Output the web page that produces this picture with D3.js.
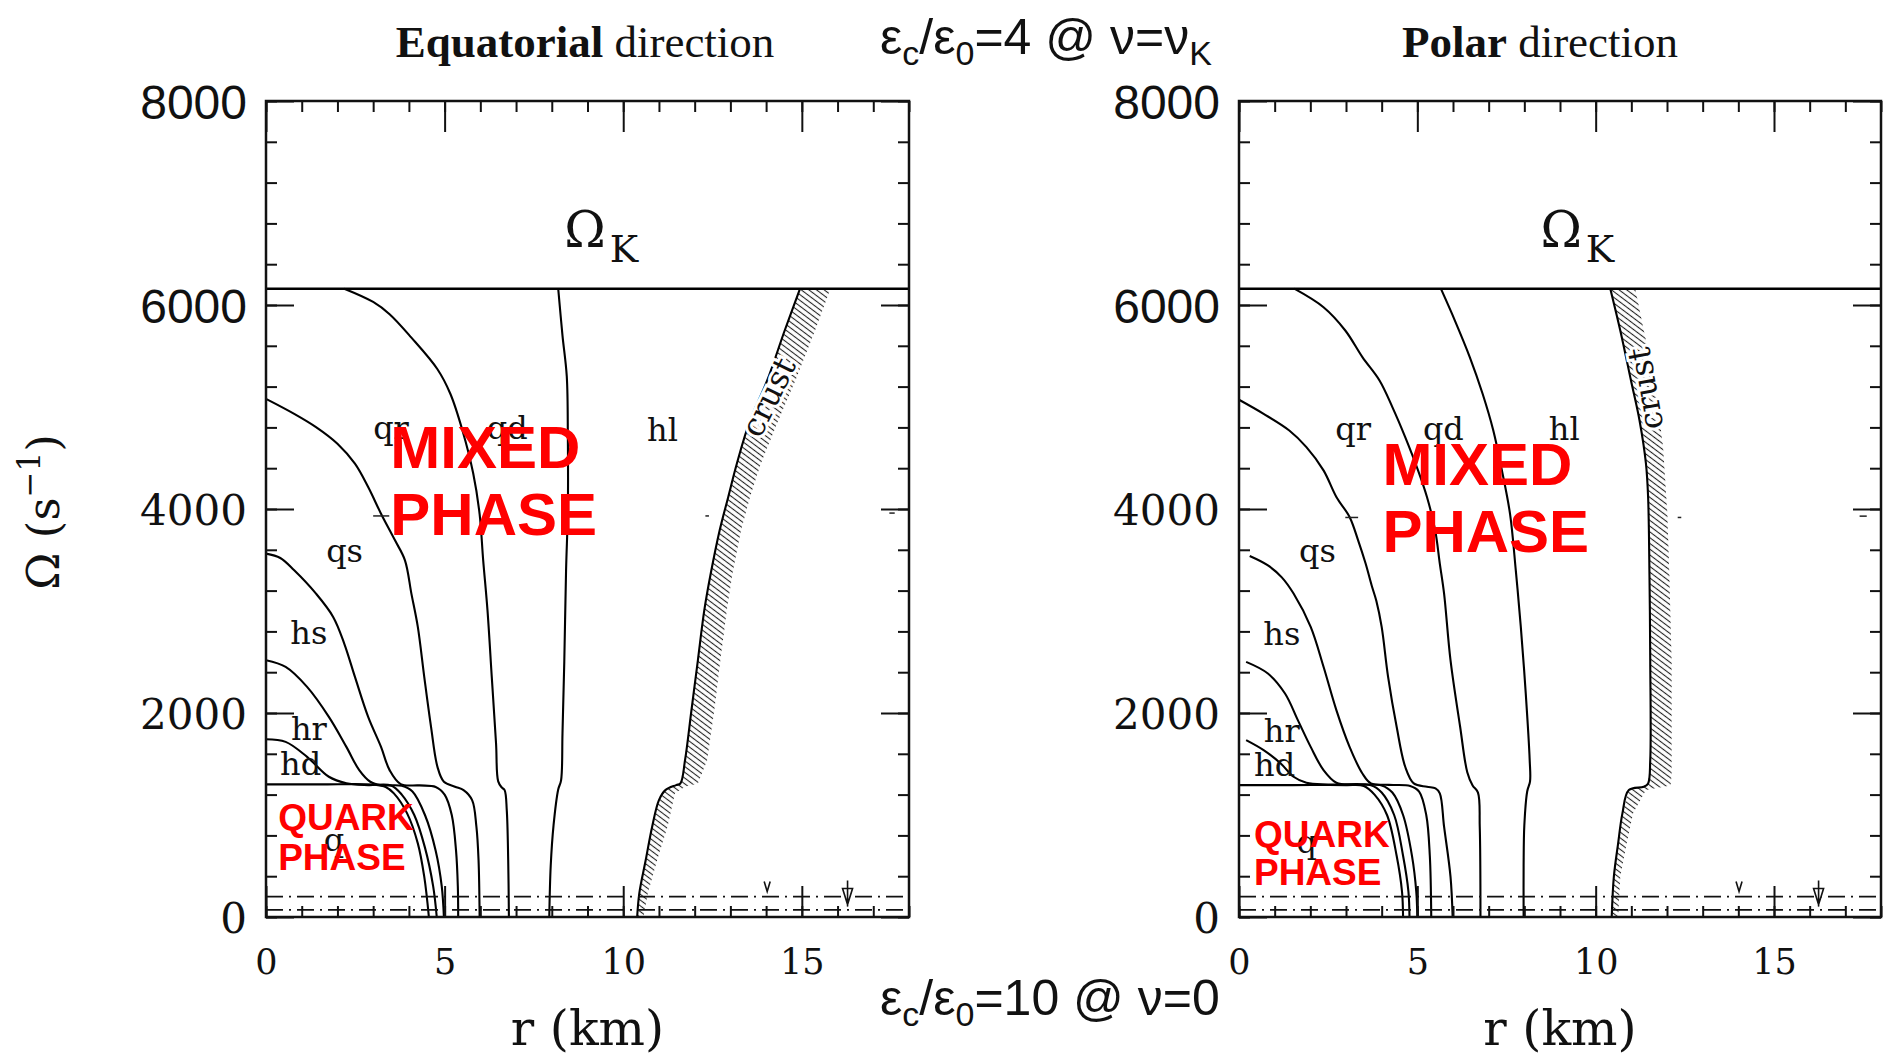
<!DOCTYPE html>
<html>
<head>
    <meta charset="utf-8">
    <title>Phase boundaries - equatorial / polar</title>
    <style>
        body { margin: 0; background: #fff; }
        svg { display: block; }
    </style>
    <script src="https://d3js.org/d3.v7.min.js"></script>
</head>
<body>
<script type="text/javascript">

    // axis values
    var rMinorTicks = d3.range(0, 19, 1);
    var rMajorTicks = [0, 5, 10, 15];
    var omegaMinorTicks = d3.range(0, 8001, 400);
    var omegaMajorTicks = [0, 2000, 4000, 6000, 8000];
    var omegaK = 6160;
    var dashLevels = [200, 70];

    // equatorial direction, [r (km), Omega (1/s)]
    var eqPlateau = [[0,1300],[1.5,1300],[3.0,1298],[3.35,1275],[3.58,1212],[3.95,1016],[4.25,722],[4.43,395],[4.56,0]];
    var eqHd = [[0,1743],[0.55,1717],[1.15,1570],[1.76,1375],[2.25,1312],[2.86,1293],[3.5,1290],[3.8,1200],[4.15,1000],[4.45,680],[4.68,300],[4.78,0]];
    var eqHr = [[0,2517],[0.55,2452],[1.15,2256],[1.76,1962],[2.25,1668],[2.61,1440],[2.92,1326],[3.22,1292],[3.8,1286],[4.1,1230],[4.45,1000],[4.75,650],[4.92,300],[4.98,0]];
    var eqQs = [[0,3563],[0.4,3520],[0.79,3399],[1.4,3170],[1.88,2942],[2.19,2681],[2.49,2354],[2.86,1962],[3.22,1668],[3.46,1440],[3.77,1303],[4.3,1290],[4.75,1275],[5.0,1200],[5.2,1000],[5.32,650],[5.37,300],[5.38,0]];
    var eqQr = [[0,5080],[0.79,4933],[1.4,4803],[2.0,4640],[2.49,4444],[2.86,4215],[3.22,3954],[3.6,3700],[3.89,3497],[4.07,3170],[4.25,2844],[4.43,2354],[4.62,1864],[4.8,1472],[4.98,1326],[5.29,1277],[5.53,1244],[5.77,1146],[5.89,885],[5.95,558],[5.98,0]];
    var eqQd = [[2.19,6160],[3.0,6030],[3.46,5910],[4.07,5680],[4.8,5370],[5.16,5130],[5.5,4770],[5.8,4350],[5.98,3950],[6.08,3497],[6.2,3008],[6.32,2354],[6.44,1701],[6.5,1330],[6.6,1270],[6.68,1244],[6.74,1048],[6.78,558],[6.8,0]];
    var eqHl = [[8.18,6160],[8.3,5700],[8.42,5300],[8.45,4700],[8.45,4000],[8.4,3400],[8.35,2500],[8.3,1800],[8.26,1340],[8.18,1250],[8.05,900],[7.97,500],[7.93,0]];
    var eqCrustInner = [[14.95,6160],[14.52,5750],[14.03,5260],[13.55,4868],[13.18,4444],[12.94,4118],[12.7,3791],[12.45,3367],[12.27,3008],[12.09,2517],[11.91,2027],[11.73,1537],[11.6,1309],[11.48,1293],[11.18,1244],[11.0,1146],[10.81,885],[10.63,559],[10.45,232],[10.39,0]];
    var eqCrustOuter = [[15.8,6160],[15.37,5750],[14.82,5260],[14.34,4868],[13.85,4444],[13.55,4118],[13.3,3791],[13.06,3367],[12.9,3008],[12.72,2517],[12.55,2027],[12.35,1537],[12.09,1310],[11.75,1280],[11.45,1215],[11.24,885],[10.95,559],[10.69,232],[10.57,0]];
    var eqTags = [['qr',3.5,4690],['qd',6.75,4690],['hl',11.1,4670],['qs',2.2,3480],['hs',1.2,2680],['hr',1.2,1735],['hd',0.97,1390],['q',1.9,650]];
    var eqMarks = [[14.03,300,'v'],[16.28,240,'tri']];
    var eqSpecks = [[3.0,3.45,3932],[12.3,12.4,3932],[17.45,17.6,3960]];

    // polar direction
    var poPlateau = [[0,1293],[1.5,1293],[3.0,1293],[3.5,1285],[3.8,1200],[4.15,1000],[4.42,600],[4.57,250],[4.6,0]];
    var poHd = [[0.2,1734],[0.69,1636],[1.17,1505],[1.53,1375],[1.89,1316],[2.5,1298],[3.7,1292],[4.0,1220],[4.35,1000],[4.6,600],[4.75,250],[4.78,0]];
    var poHr = [[0.2,2501],[0.81,2387],[1.29,2191],[1.65,1930],[2.01,1668],[2.37,1440],[2.73,1316],[3.2,1295],[4.0,1290],[4.3,1220],[4.6,1000],[4.85,600],[4.97,250],[5.0,0]];
    var poQs = [[0.3,3540],[0.8,3450],[1.2,3330],[1.53,3171],[2.01,2844],[2.37,2453],[2.73,2028],[3.1,1668],[3.46,1407],[3.7,1310],[4.2,1295],[4.8,1285],[5.05,1230],[5.25,1000],[5.35,600],[5.39,0]];
    var poQr = [[0,5071],[0.69,4933],[1.41,4770],[1.89,4607],[2.37,4379],[2.73,4118],[3.1,3922],[3.34,3693],[3.55,3465],[3.72,3250],[3.85,3100],[4.0,2844],[4.18,2355],[4.42,1865],[4.66,1473],[4.9,1310],[5.27,1277],[5.51,1261],[5.63,1212],[5.75,885],[5.93,395],[5.99,0]];
    var poQd = [[1.55,6160],[2.37,5978],[2.98,5750],[3.46,5489],[3.94,5260],[4.3,4999],[4.66,4705],[5.02,4379],[5.27,4118],[5.5,3791],[5.63,3465],[5.75,3171],[5.93,2518],[6.2,1865],[6.4,1420],[6.55,1290],[6.7,1220],[6.75,885],[6.77,0]];
    var poHl = [[5.66,6160],[6.05,5850],[6.47,5490],[6.83,5130],[7.13,4770],[7.37,4380],[7.6,3950],[7.76,3400],[7.9,2850],[8.04,2190],[8.15,1540],[8.16,1330],[8.08,1230],[8.0,900],[7.98,500],[7.98,0]];
    var poCrustInner = [[10.41,6160],[10.69,5750],[10.99,5260],[11.23,4868],[11.41,4444],[11.47,4118],[11.51,3301],[11.53,2518],[11.53,1538],[11.47,1310],[11.35,1277],[10.93,1244],[10.75,1016],[10.63,722],[10.51,395],[10.45,0]];
    var poCrustOuter = [[11.11,6160],[11.35,5750],[11.65,5260],[11.89,4607],[12.01,3954],[12.07,3301],[12.13,2500],[12.13,1400],[12.1,1290],[11.41,1244],[11.05,1016],[10.87,722],[10.69,395],[10.63,0]];
    var poTags = [['qr',3.2,4673],['qd',5.73,4673],['hl',9.12,4673],['qs',2.2,3481],['hs',1.2,2665],['hr',1.2,1718],['hd',1.0,1378],['q',1.9,624]];
    var poMarks = [[14.02,300,'v'],[16.25,240,'tri']];
    var poSpecks = [[2.98,3.34,3917],[12.3,12.4,3917],[17.4,17.6,3930]];

    // layout
    var plotTop = 101, plotBottom = 917;
    var panels = [
        { title: 'Equatorial', titleX: 585, x0: 266, x1: 909,
          lines: [eqPlateau, eqHd, eqHr, eqQs, eqQr, eqQd, eqHl],
          crustIn: eqCrustInner, crustOut: eqCrustOuter, tags: eqTags, marks: eqMarks, specks: eqSpecks,
          crust: [14.06, 5097, -64], okPos: [8.35, 6567],
          mixed: [3.48, 4402, 3745], quark: [0.34, 855, 464], ylabel: true },
        { title: 'Polar', titleX: 1540, x0: 1239, x1: 1881,
          lines: [poPlateau, poHd, poHr, poQs, poQr, poQd, poHl],
          crustIn: poCrustInner, crustOut: poCrustOuter, tags: poTags, marks: poMarks, specks: poSpecks,
          crust: [11.39, 5180, -100], okPos: [8.45, 6570],
          mixed: [4.02, 4235, 3579], quark: [0.42, 690, 318], ylabel: false }
    ];

    var svg = d3.select('body').append('svg')
        .attr('width', 1895)
        .attr('height', 1058);

    var defs = svg.append('defs');
    var pat = defs.append('pattern')
        .attr('id', 'hatch')
        .attr('patternUnits', 'userSpaceOnUse')
        .attr('width', 6).attr('height', 4.6)
        .attr('patternTransform', 'rotate(37)');
    pat.append('line')
        .attr('x1', 0).attr('y1', 2.3).attr('x2', 6).attr('y2', 2.3)
        .style('stroke', '#222').style('stroke-width', 1.1);

    var serif = '"DejaVu Serif", serif';
    var times = '"Liberation Serif", "Times New Roman", serif';
    var sans = '"Liberation Sans", Arial, sans-serif';

    panels.forEach(function(p, i) {
        var x = d3.scaleLinear().domain([0, 18]).range([p.x0, p.x1]);
        var y = d3.scaleLinear().domain([0, 8000]).range([plotBottom, plotTop]);
        var g = svg.append('g');

        defs.append('clipPath').attr('id', 'clip' + i)
            .append('rect')
            .attr('x', p.x0).attr('y', plotTop)
            .attr('width', p.x1 - p.x0).attr('height', plotBottom - plotTop);

        var plot = g.append('g').attr('clip-path', 'url(#clip' + i + ')');

        // crust band
        var band = p.crustIn.concat(p.crustOut.slice().reverse());
        plot.append('path')
            .attr('d', d3.line().x(function(d){ return x(d[0]); }).y(function(d){ return y(d[1]); })
                .curve(d3.curveLinearClosed)(band))
            .style('fill', 'url(#hatch)')
            .style('stroke', 'none');

        var line = d3.line()
            .x(function(d){ return x(d[0]); })
            .y(function(d){ return y(d[1]); })
            .curve(d3.curveCatmullRom.alpha(0.5));

        plot.selectAll('path.bound')
            .data(p.lines.concat([p.crustIn]))
            .enter()
            .append('path')
            .attr('class', 'bound')
            .attr('d', line)
            .style('fill', 'none')
            .style('stroke', '#000')
            .style('stroke-width', 2.1);

        // Kepler limit
        plot.append('line')
            .attr('x1', p.x0).attr('x2', p.x1)
            .attr('y1', y(omegaK)).attr('y2', y(omegaK))
            .style('stroke', '#000').style('stroke-width', 2.5);

        // dash-dot lines near the bottom
        plot.selectAll('line.dd')
            .data(dashLevels)
            .enter()
            .append('line')
            .attr('class', 'dd')
            .attr('x1', p.x0).attr('x2', p.x1)
            .attr('y1', function(d){ return y(d); })
            .attr('y2', function(d){ return y(d); })
            .style('stroke', '#111').style('stroke-width', 1.8)
            .style('stroke-dasharray', '17,6,2,6');

        // leftover specks around 4000
        plot.selectAll('line.speck')
            .data(p.specks)
            .enter()
            .append('line')
            .attr('class', 'speck')
            .attr('x1', function(d){ return x(d[0]); })
            .attr('x2', function(d){ return x(d[1]); })
            .attr('y1', function(d){ return y(d[2]); })
            .attr('y2', function(d){ return y(d[2]); })
            .style('stroke', '#222').style('stroke-width', 1.5);

        // small markers
        p.marks.forEach(function(m) {
            var mx = x(m[0]), my = y(m[1]);
            if (m[2] === 'v') {
                plot.append('path')
                    .attr('d', 'M' + (mx - 3) + ',' + (my - 5) + 'L' + mx + ',' + (my + 5) + 'L' + (mx + 3) + ',' + (my - 5))
                    .style('fill', 'none').style('stroke', '#111').style('stroke-width', 1.6);
            } else {
                plot.append('path')
                    .attr('d', 'M' + mx + ',' + (my - 12) + 'L' + mx + ',' + (my + 14)
                        + 'M' + (mx - 5) + ',' + (my - 4) + 'L' + (mx + 5) + ',' + (my - 4) + 'L' + mx + ',' + (my + 12) + 'Z')
                    .style('fill', '#fff').style('stroke', '#111').style('stroke-width', 1.6);
            }
        });

        // axes: ticks pointing inward on all four sides
        function ticks(axis, tr, size) {
            var a = g.append('g').attr('transform', tr).call(axis.tickSize(size).tickFormat(''));
            a.select('.domain').remove();
            a.selectAll('line').style('stroke', '#111').style('stroke-width', 2);
            return a;
        }
        ticks(d3.axisBottom(x).tickValues(rMinorTicks), 'translate(0,' + plotBottom + ')', -11);
        ticks(d3.axisTop(x).tickValues(rMinorTicks), 'translate(0,' + plotTop + ')', -11);
        ticks(d3.axisTop(x).tickValues(rMajorTicks), 'translate(0,' + plotTop + ')', -31);
        ticks(d3.axisLeft(y).tickValues(omegaMinorTicks), 'translate(' + p.x0 + ',0)', -11);
        ticks(d3.axisRight(y).tickValues(omegaMinorTicks), 'translate(' + p.x1 + ',0)', -11);
        ticks(d3.axisRight(y).tickValues(omegaMajorTicks), 'translate(' + p.x1 + ',0)', -28);

        var xb = g.append('g').attr('transform', 'translate(0,' + plotBottom + ')')
            .call(d3.axisBottom(x).tickValues(rMajorTicks).tickSize(-31).tickPadding(32));
        xb.select('.domain').remove();
        xb.selectAll('line').style('stroke', '#111').style('stroke-width', 2);
        xb.selectAll('text').attr('font-family', serif).attr('font-size', 35).style('fill', '#111');

        var yl = g.append('g').attr('transform', 'translate(' + p.x0 + ',0)')
            .call(d3.axisLeft(y).tickValues(omegaMajorTicks).tickSize(-28).tickPadding(19).tickFormat(d3.format('d')));
        yl.select('.domain').remove();
        yl.selectAll('line').style('stroke', '#111').style('stroke-width', 2);
        yl.selectAll('text')
            .attr('font-family', function(d){ return d >= 6000 ? sans : serif; })
            .attr('font-size', function(d){ return d >= 6000 ? 48 : 42; })
            .attr('dy', '0.36em')
            .style('fill', '#111');

        // frame
        g.append('rect')
            .attr('x', p.x0).attr('y', plotTop)
            .attr('width', p.x1 - p.x0).attr('height', plotBottom - plotTop)
            .style('fill', 'none').style('stroke', '#111').style('stroke-width', 2.5);

        // region tags
        g.selectAll('text.tag')
            .data(p.tags)
            .enter()
            .append('text')
            .attr('class', 'tag')
            .attr('x', function(d){ return x(d[1]); })
            .attr('y', function(d){ return y(d[2]); })
            .attr('text-anchor', 'middle')
            .attr('font-family', serif)
            .attr('font-size', 32)
            .style('fill', '#111')
            .text(function(d){ return d[0]; });

        g.append('text')
            .attr('transform', 'translate(' + x(p.crust[0]) + ',' + y(p.crust[1]) + ') rotate(' + p.crust[2] + ')')
            .attr('text-anchor', 'middle')
            .attr('dy', '0.35em')
            .attr('font-family', serif)
            .attr('font-size', 32)
            .style('fill', '#111')
            .style('stroke', '#fff').style('stroke-width', 6)
            .style('paint-order', 'stroke')
            .text('crust');

        var ok = g.append('text')
            .attr('x', x(p.okPos[0])).attr('y', y(p.okPos[1]))
            .attr('font-family', serif)
            .attr('font-size', 50)
            .style('fill', '#111')
            .text('Ω');
        ok.append('tspan').attr('font-size', 38).attr('dy', 15).attr('dx', 4).text('K');

        // red phase labels
        var mixed = g.append('text')
            .attr('font-family', sans).attr('font-weight', 'bold')
            .attr('font-size', 60).style('fill', '#ff0000');
        mixed.append('tspan').attr('x', x(p.mixed[0])).attr('y', y(p.mixed[1])).text('MIXED');
        mixed.append('tspan').attr('x', x(p.mixed[0])).attr('y', y(p.mixed[2])).text('PHASE');

        var quark = g.append('text')
            .attr('font-family', sans).attr('font-weight', 'bold')
            .attr('font-size', 37).style('fill', '#ff0000');
        quark.append('tspan').attr('x', x(p.quark[0])).attr('y', y(p.quark[1])).text('QUARK');
        quark.append('tspan').attr('x', x(p.quark[0])).attr('y', y(p.quark[2])).text('PHASE');

        // titles and axis labels
        var t = svg.append('text')
            .attr('x', p.titleX).attr('y', 57)
            .attr('text-anchor', 'middle')
            .attr('font-family', times).attr('font-size', 45)
            .style('fill', '#111');
        t.append('tspan').attr('font-weight', 'bold').text(p.title);
        t.append('tspan').text(' direction');

        svg.append('text')
            .attr('x', (p.x0 + p.x1) / 2).attr('y', 1045)
            .attr('text-anchor', 'middle')
            .attr('font-family', serif).attr('font-size', 49)
            .style('fill', '#111')
            .text('r  (km)');

        if (p.ylabel) {
            var yt = svg.append('text')
                .attr('transform', 'translate(59,512) rotate(-90)')
                .attr('text-anchor', 'middle')
                .attr('font-family', serif).attr('font-size', 45)
                .style('fill', '#111');
            yt.append('tspan').text('Ω  (s');
            yt.append('tspan').attr('font-size', 31).attr('dy', -19).text('−1');
            yt.append('tspan').attr('dy', 19).text(')');
        }
    });

    // central condition labels
    function condition(yPos, pieces) {
        var t = svg.append('text')
            .attr('x', 880).attr('y', yPos)
            .attr('font-family', sans).attr('font-size', 50)
            .style('fill', '#111');
        pieces.forEach(function(s) {
            var ts = t.append('tspan').text(s[0]);
            if (s[1] === 'sub') ts.attr('font-size', 34).attr('dy', 11);
            if (s[1] === 'up') ts.attr('dy', -11);
        });
    }
    condition(54, [['ε'], ['c','sub'], ['/ε','up'], ['0','sub'], ['=4 @ ν=ν','up'], ['K','sub']]);
    condition(1015, [['ε'], ['c','sub'], ['/ε','up'], ['0','sub'], ['=10 @ ν=0','up']]);

</script>
</body>
</html>
